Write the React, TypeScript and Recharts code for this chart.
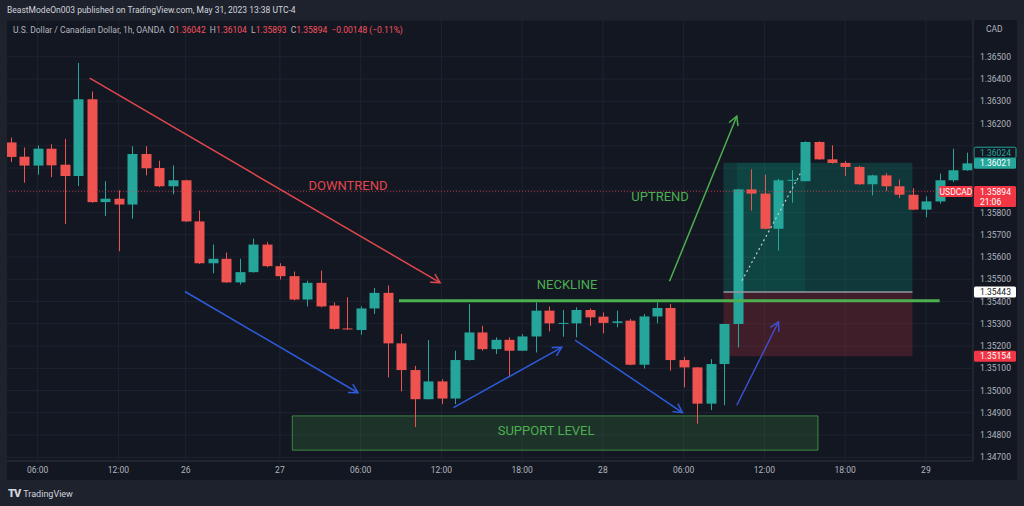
import React from "react";
import {
  ComposedChart,
  Bar,
  XAxis,
  YAxis,
  CartesianGrid,
  ReferenceLine,
  ReferenceArea,
  ReferenceDot,
} from "recharts";

// USDCAD 1h candles
const opens = [
  1.36115, 1.36051, 1.36011, 1.36087, 1.36015, 1.35964, 1.36309, 1.35847, 1.35862, 1.35836,
  1.36063, 1.36, 1.35918, 1.35945, 1.3576, 1.35572, 1.35592, 1.35486, 1.35532, 1.35656,
  1.35559, 1.35514, 1.35409, 1.35484, 1.35382, 1.35279, 1.35272, 1.35369, 1.35439, 1.35212,
  1.35092, 1.34961, 1.35041, 1.34964, 1.35137, 1.35261, 1.35186, 1.35228, 1.35179, 1.35243,
  1.35359, 1.35302, 1.35302, 1.35362, 1.35332, 1.35304, 1.35314, 1.35116, 1.35333, 1.35371,
  1.35137, 1.35104, 1.34941, 1.35119, 1.35299, 1.35904, 1.35885, 1.35727, 1.35943, 1.35941,
  1.36117, 1.36039, 1.36023, 1.36005, 1.35927, 1.35967, 1.35918, 1.3588, 1.35813, 1.3585,
  1.35945, 1.3599,
];
const highs = [
  1.36137, 1.36092, 1.36101, 1.36107, 1.36131, 1.36472, 1.36344, 1.35941, 1.359, 1.36098,
  1.36098, 1.36033, 1.36012, 1.35947, 1.35809, 1.35656, 1.3562, 1.35592, 1.35683, 1.35667,
  1.35572, 1.35535, 1.35494, 1.35539, 1.35396, 1.35419, 1.35378, 1.35461, 1.35472, 1.35254,
  1.35111, 1.35227, 1.35051, 1.35179, 1.35389, 1.35291, 1.35239, 1.35239, 1.35254, 1.35396,
  1.35378, 1.35362, 1.35374, 1.35369, 1.35351, 1.35359, 1.35322, 1.35344, 1.35396, 1.35389,
  1.35152, 1.35106, 1.35141, 1.353, 1.35906, 1.35994, 1.3597, 1.35952, 1.3599, 1.3612,
  1.3612, 1.36102, 1.36032, 1.3601, 1.3597, 1.35977, 1.35948, 1.3591, 1.35873, 1.35975,
  1.36087, 1.36069,
];
const lows = [
  1.36027, 1.35934, 1.3597, 1.35959, 1.35748, 1.35919, 1.35844, 1.35784, 1.35626, 1.35772,
  1.35967, 1.35914, 1.35882, 1.35758, 1.35569, 1.35527, 1.35484, 1.35476, 1.3553, 1.35554,
  1.35499, 1.35405, 1.35378, 1.35374, 1.35273, 1.35273, 1.35251, 1.35344, 1.35059, 1.34996,
  1.34836, 1.3496, 1.34939, 1.34939, 1.35135, 1.35179, 1.35164, 1.35066, 1.35178, 1.35171,
  1.35266, 1.35242, 1.35239, 1.35291, 1.35257, 1.35284, 1.35114, 1.35099, 1.35302, 1.35089,
  1.35014, 1.34851, 1.34912, 1.34934, 1.35194, 1.35809, 1.35725, 1.35629, 1.35844, 1.3594,
  1.36037, 1.3602, 1.35964, 1.35925, 1.35877, 1.35896, 1.35865, 1.35811, 1.35779, 1.3584,
  1.35937, 1.35988,
];
const closes = [
  1.3605, 1.36011, 1.36087, 1.36012, 1.35964, 1.36309, 1.35847, 1.35862, 1.35836, 1.36063,
  1.35999, 1.35918, 1.35945, 1.3576, 1.35572, 1.35592, 1.35486, 1.35532, 1.35656, 1.35559,
  1.35514, 1.35409, 1.35484, 1.35378, 1.35277, 1.35275, 1.35369, 1.35439, 1.35212, 1.35092,
  1.34961, 1.35041, 1.34964, 1.35137, 1.35261, 1.35186, 1.35228, 1.35179, 1.35243, 1.35359,
  1.35302, 1.35304, 1.35362, 1.35329, 1.35304, 1.35311, 1.35116, 1.35333, 1.35371, 1.35137,
  1.35104, 1.34941, 1.35119, 1.35299, 1.35904, 1.35885, 1.35727, 1.35945, 1.35947, 1.36117,
  1.36039, 1.36023, 1.36005, 1.35927, 1.35967, 1.35918, 1.3588, 1.35813, 1.3585, 1.35945,
  1.3599, 1.36021,
];

const timeTicks = [2, 8, 13, 20, 26, 32, 38, 44, 50, 56, 62, 68];
const timeLabels = ["06:00", "12:00", "26", "27", "06:00", "12:00", "18:00", "28", "06:00", "12:00", "18:00", "29"];
const priceTicks = [
  1.347, 1.348, 1.349, 1.35, 1.351, 1.352, 1.353, 1.354, 1.355, 1.356,
  1.357, 1.358, 1.359, 1.36, 1.361, 1.362, 1.363, 1.364, 1.365,
];
// tick labels hidden under the price badges
const coveredTicks = [1.359, 1.36, 1.361];

// drawings (bar index, price)
const downArrow = [{ x: 5.87, y: 1.36404 }, { x: 31.9, y: 1.35485 }];
const blueArrows = [
  [{ x: 12.94, y: 1.35445 }, { x: 25.8, y: 1.3499 }],
  [{ x: 32.9, y: 1.34923 }, { x: 40.94, y: 1.35194 }],
  [{ x: 41.93, y: 1.35227 }, { x: 49.91, y: 1.34901 }],
  [{ x: 53.95, y: 1.34934 }, { x: 57.05, y: 1.35309 }],
];
const upArrow = [{ x: 48.95, y: 1.35491 }, { x: 53.95, y: 1.36233 }];
const neckline = [{ x: 28.85, y: 1.35404 }, { x: 69.02, y: 1.35404 }];
const support = { x1: 20.92, x2: 59.98, y1: 1.34732, y2: 1.34886 };
const position = { x1: 52.96, x2: 67.0, target: 1.36024, entry: 1.35443, stop: 1.35154, inner1: 53.95, inner2: 59.03 };
const pathLine = [{ x: 54.33, y: 1.35494 }, { x: 58.67, y: 1.35975 }];
const lastPrice = 1.35894;
const labels = [
  { text: "DOWNTREND", x: 25.06, y: 1.35922, color: "#e0474c" },
  { text: "NECKLINE", x: 41.34, y: 1.35479, color: "#4caf50" },
  { text: "UPTREND", x: 48.25, y: 1.35873, color: "#4caf50" },
  { text: "SUPPORT LEVEL", x: 39.78, y: 1.34822, color: "#4caf50" },
];

const candles = opens.map((o, i) => ({
  i,
  open: o,
  high: highs[i],
  low: lows[i],
  close: closes[i],
  range: [lows[i], highs[i]],
}));

const UP = "#26a69a";
const DOWN = "#ef5350";
const FONT = "Roboto, 'Open Sans', sans-serif";

function Candle(props: any) {
  const { x, y, width, height, payload } = props;
  if (!payload) return null;
  const { open, close, high, low } = payload;
  const top = Math.min(y, y + height);
  const bot = Math.max(y, y + height);
  const span = high - low || 1;
  const py = (p: number) => top + ((high - p) / span) * (bot - top);
  const cx = Math.round(x + width / 2) + 0.5;
  const color = close >= open ? UP : DOWN;
  const yo = py(open);
  const yc = py(close);
  const bt = Math.min(yo, yc);
  const bh = Math.max(1, Math.abs(yo - yc));
  return (
    <g>
      <line x1={cx} x2={cx} y1={top} y2={bot} stroke={color} strokeWidth={1} />
      <rect x={cx - 5} y={bt} width={10} height={bh} fill={color} />
    </g>
  );
}

const arrowShape = (color: string, w = 1.5) => (p: any) => {
  const { x1, y1, x2, y2 } = p;
  const a = Math.atan2(y2 - y1, x2 - x1);
  const L = 10;
  const s = 0.5;
  const ax = x2 - L * Math.cos(a - s);
  const ay = y2 - L * Math.sin(a - s);
  const bx = x2 - L * Math.cos(a + s);
  const by = y2 - L * Math.sin(a + s);
  return (
    <g>
      <line x1={x1} y1={y1} x2={x2} y2={y2} stroke={color} strokeWidth={w} />
      <polyline points={`${ax},${ay} ${x2},${y2} ${bx},${by}`} fill="none" stroke={color} strokeWidth={w} />
    </g>
  );
};

function PriceTick(props: any) {
  const { x, y, payload } = props;
  if (coveredTicks.some((c) => Math.abs(c - payload.value) < 1e-7)) return null;
  return (
    <text x={x} y={y} dy="0.355em" fill="#b2b5be" fontSize={8.5} fontFamily={FONT}>
      {Number(payload.value).toFixed(5)}
    </text>
  );
}

function Badge(props: any) {
  const { viewBox, text, sub, bg, fg, border, shift = 0, symbol } = props;
  if (!viewBox) return null;
  const x = viewBox.x + viewBox.width + 1;
  const cy = viewBox.y + shift;
  const h = sub ? 21 : 11;
  return (
    <g fontFamily={FONT} fontSize={8.5}>
      {symbol && (
        <g>
          <rect x={x - 35} y={cy - 5.5} width={34} height={11} fill={bg} rx={1} />
          <text x={x - 18} y={cy + 3} fill={fg} textAnchor="middle">
            {symbol}
          </text>
        </g>
      )}
      <rect x={x} y={cy - 5.5} width={42} height={h} fill={bg} stroke={border || "none"} rx={1.5} />
      <text x={x + 6} y={cy + 3} fill={fg}>
        {text}
      </text>
      {sub && (
        <text x={x + 6} y={cy + 13} fill={fg}>
          {sub}
        </text>
      )}
    </g>
  );
}

export default function App() {
  return (
    <div
      style={{
        position: "absolute",
        left: 0,
        top: 0,
        width: 1024,
        height: 506,
        background: "#1e222d",
        fontFamily: FONT,
        overflow: "hidden",
      }}
    >
      <div style={{ position: "absolute", left: 7, top: 5, fontSize: 8.5, color: "#d1d4dc", whiteSpace: "nowrap" }}>
        BeastModeOn003 published on TradingView.com, May 31, 2023 13:38 UTC-4
      </div>
      <div
        style={{
          position: "absolute",
          left: 7,
          top: 20,
          width: 1010,
          height: 460,
          background: "#131722",
          overflow: "hidden",
        }}
      >
        <div style={{ position: "absolute", left: -7, top: -20 }}>
          <ComposedChart
            width={1024}
            height={506}
            data={candles}
            margin={{ top: 20, right: 7, bottom: 26, left: 4 }}
          >
            <CartesianGrid xAxisId="n" stroke="#1f2330" strokeWidth={1} />
            <XAxis xAxisId="c" dataKey="i" type="category" orientation="top" height={0} hide />
            <XAxis
              xAxisId="n"
              dataKey="i"
              type="number"
              domain={[-0.5, 71.5]}
              allowDataOverflow
              ticks={timeTicks}
              interval={0}
              tickFormatter={(v: number) => timeLabels[timeTicks.indexOf(v)] ?? ""}
              height={19}
              tickLine={false}
              tickSize={0}
              tickMargin={6}
              axisLine={{ stroke: "#2a2e39" }}
              tick={{ fill: "#b2b5be", fontSize: 8.5, fontFamily: FONT }}
            />
            <YAxis
              orientation="right"
              domain={[1.346833, 1.366653]}
              allowDataOverflow
              ticks={priceTicks}
              interval={0}
              width={44}
              tickLine={false}
              tickSize={0}
              tickMargin={7}
              axisLine={{ stroke: "#2a2e39" }}
              tick={<PriceTick />}
            />
            <ReferenceArea
              xAxisId="n"
              x1={support.x1}
              x2={support.x2}
              y1={support.y1}
              y2={support.y2}
              fill="#4caf50"
              fillOpacity={0.18}
              stroke="#4caf50"
              strokeOpacity={0.7}
            />
            <ReferenceArea
              xAxisId="n"
              x1={position.x1}
              x2={position.x2}
              y1={position.entry}
              y2={position.target}
              fill="#089981"
              fillOpacity={0.25}
              stroke="none"
            />
            <ReferenceArea
              xAxisId="n"
              x1={position.inner1}
              x2={position.inner2}
              y1={position.entry}
              y2={position.target}
              fill="#089981"
              fillOpacity={0.15}
              stroke="none"
            />
            <ReferenceArea
              xAxisId="n"
              x1={position.x1}
              x2={position.x2}
              y1={position.stop}
              y2={position.entry}
              fill="#f23645"
              fillOpacity={0.2}
              stroke="none"
            />
            <ReferenceLine
              xAxisId="n"
              segment={[{ x: position.x1, y: position.entry }, { x: position.x2, y: position.entry }]}
              stroke="#9598a1"
              strokeWidth={1.5}
            />
            <ReferenceLine xAxisId="n" y={lastPrice} stroke="#f23645" strokeOpacity={0.7} strokeDasharray="1 2" />
            <Bar
              xAxisId="c"
              dataKey="range"
              barSize={10}
              shape={<Candle />}
              isAnimationActive={false}
            />
            <ReferenceLine
              xAxisId="n"
              segment={pathLine}
              stroke="#c8cad0"
              strokeDasharray="2 3"
              strokeWidth={1.2}
            />
            <ReferenceLine xAxisId="n" segment={neckline} stroke="#4caf50" strokeWidth={3} />
            <ReferenceLine xAxisId="n" segment={downArrow} shape={arrowShape("#e0474c")} />
            <ReferenceLine xAxisId="n" segment={upArrow} shape={arrowShape("#4caf50")} />
            {blueArrows.map((seg, k) => (
              <ReferenceLine key={k} xAxisId="n" segment={seg} shape={arrowShape(k === 3 ? "#3f4fd0" : "#2e5bdb")} />
            ))}
            {labels.map((l) => (
              <ReferenceDot
                key={l.text}
                xAxisId="n"
                x={l.x}
                y={l.y}
                r={0}
                fill="none"
                stroke="none"
                label={{ value: l.text, position: "center", fill: l.color, fontSize: 13, fontFamily: FONT }}
              />
            ))}
            <ReferenceLine
              xAxisId="n"
              y={position.target}
              stroke="none"
              label={<Badge text="1.36024" bg="#131722" fg="#26a69a" border="#26a69a" shift={-10} />}
            />
            <ReferenceLine
              xAxisId="n"
              y={closes[closes.length - 1]}
              stroke="none"
              label={<Badge text={closes[closes.length - 1].toFixed(5)} bg="#26a69a" fg="#ffffff" />}
            />
            <ReferenceLine
              xAxisId="n"
              y={lastPrice}
              stroke="none"
              label={<Badge text="1.35894" sub="21:06" bg="#f23645" fg="#ffffff" symbol="USDCAD" />}
            />
            <ReferenceLine
              xAxisId="n"
              y={position.entry}
              stroke="none"
              label={<Badge text="1.35443" bg="#ffffff" fg="#131722" />}
            />
            <ReferenceLine
              xAxisId="n"
              y={position.stop}
              stroke="none"
              label={<Badge text="1.35154" bg="#f23645" fg="#ffffff" />}
            />
          </ComposedChart>
        </div>
        <div
          style={{ position: "absolute", left: 6, top: 5, fontSize: 8.5, color: "#b2b5be", whiteSpace: "nowrap" }}
        >
          U.S. Dollar / Canadian Dollar, 1h, OANDA&nbsp;&nbsp;O<span style={{ color: "#f7525f" }}>1.36042</span>
          &nbsp;&nbsp;H<span style={{ color: "#f7525f" }}>1.36104</span>&nbsp;&nbsp;L
          <span style={{ color: "#f7525f" }}>1.35893</span>&nbsp;&nbsp;C
          <span style={{ color: "#f7525f" }}>1.35894</span>&nbsp;&nbsp;
          <span style={{ color: "#f7525f" }}>−0.00148 (−0.11%)</span>
        </div>
        <div style={{ position: "absolute", left: 976, top: 3, fontSize: 8.5, color: "#b2b5be", background: "#131722", padding: "1px 3px" }}>
          CAD
        </div>
      </div>
      <div
        style={{
          position: "absolute",
          left: 8,
          top: 487,
          fontSize: 9,
          color: "#d1d4dc",
          whiteSpace: "nowrap",
          display: "flex",
          alignItems: "center",
          gap: 3,
        }}
      >
        <span style={{ fontWeight: 900, fontSize: 11, letterSpacing: -1 }}>TV</span>
        <span>TradingView</span>
      </div>
    </div>
  );
}
